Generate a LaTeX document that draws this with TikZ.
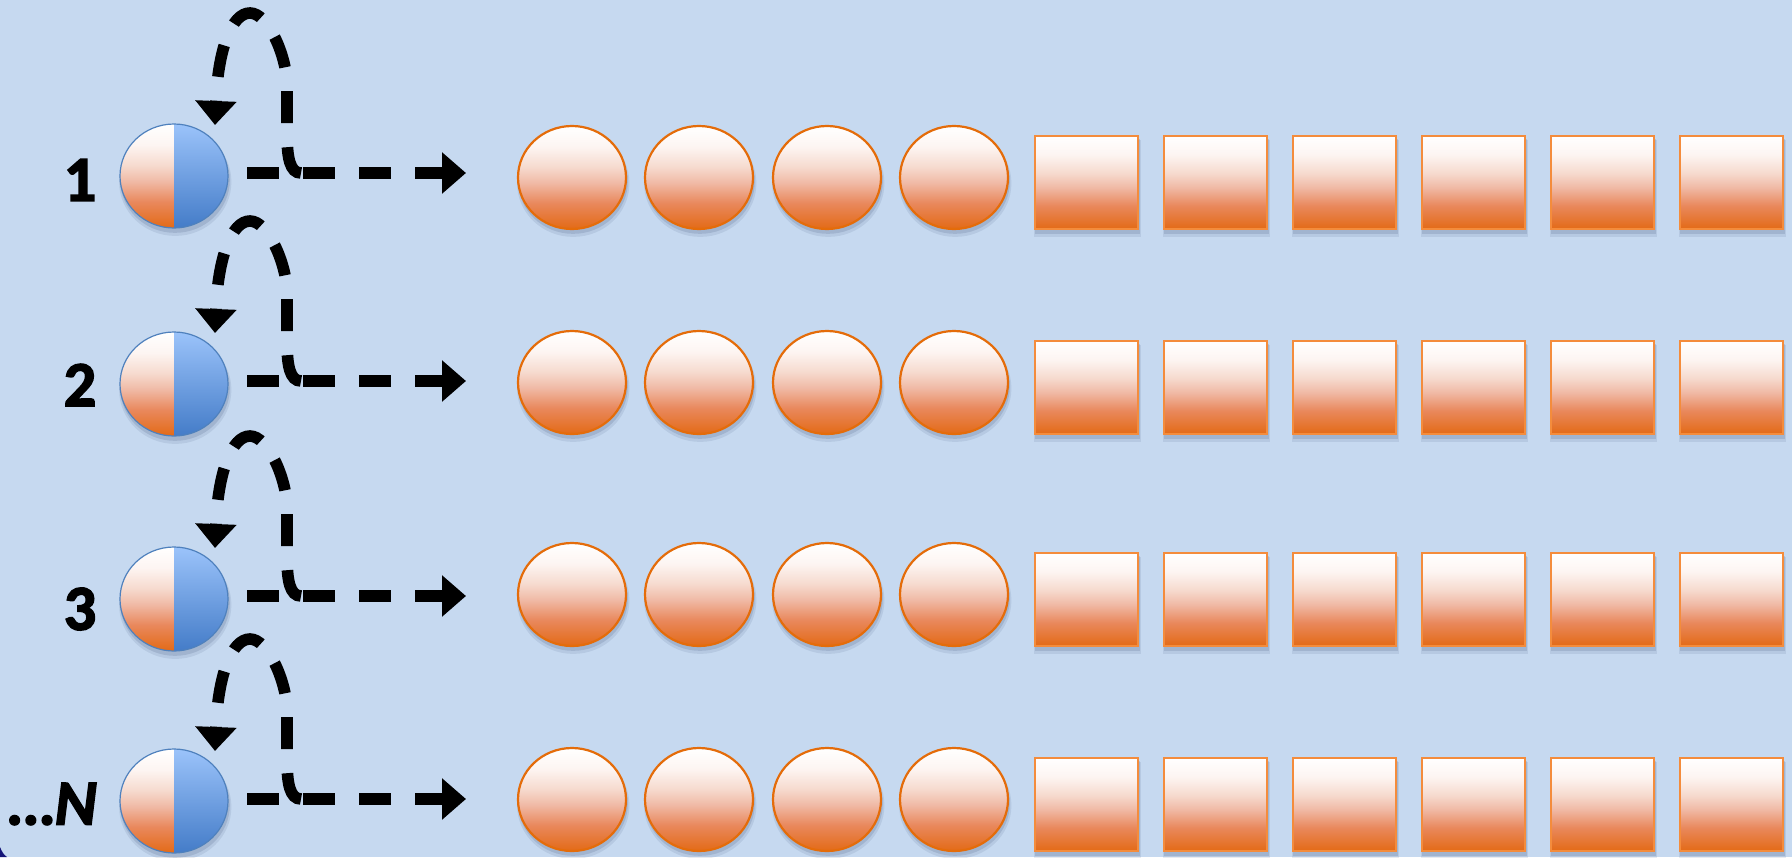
\documentclass[tikz,border=0pt]{standalone}
\usepackage{fontspec}
\setmainfont{Carlito}
\newfontfamily\lblfont{Carlito Bold}[FakeBold=2.5]
\newfontfamily\lblfontit{Carlito Bold Italic}[FakeBold=2.5]
\usetikzlibrary{arrows.meta,shapes.geometric,shadows}
\definecolor{bg}{RGB}{198,217,240}
\definecolor{orB}{RGB}{227,106,22}
\definecolor{orT}{RGB}{233,136,92}
\definecolor{orM}{RGB}{240,186,166}
\definecolor{orL}{RGB}{246,218,206}
\definecolor{orV}{RGB}{253,245,242}
\definecolor{orE}{RGB}{228,108,10}
\definecolor{orS}{RGB}{244,140,60}
\definecolor{blT}{RGB}{155,195,250}
\definecolor{blB}{RGB}{68,124,200}
\definecolor{blE}{RGB}{79,129,189}
\definecolor{shc}{RGB}{70,90,125}
\definecolor{navy}{RGB}{20,20,120}
\pgfdeclareverticalshading{orgrad}{100bp}{color(0bp)=(orB); color(25bp)=(orB); color(37.5bp)=(orT); color(47.5bp)=(orM); color(55bp)=(orL); color(65bp)=(orV); color(75bp)=(white); color(100bp)=(white)}
\pgfdeclareverticalshading{blgrad}{100bp}{color(0bp)=(blB); color(25bp)=(blB); color(75bp)=(blT); color(100bp)=(blT)}
\tikzset{
  softshadow/.style={
    general shadow={shadow xshift=0.6pt,shadow yshift=-2.8pt,shadow scale=1.04,fill=shc,opacity=0.12},
    general shadow={shadow xshift=0.5pt,shadow yshift=-2pt,shadow scale=1.015,fill=shc,opacity=0.18}},
  oball/.style={ellipse, minimum width=54pt, minimum height=51.5pt, inner sep=0pt,
    shade, shading=orgrad, draw=orE, line width=1.1pt, softshadow},
  obox/.style={rectangle, minimum width=51.5pt, minimum height=46.5pt, inner sep=0pt,
    shade, shading=orgrad, draw=orS, line width=0.9pt, softshadow},
  halfball/.style={ellipse, minimum width=54pt, minimum height=52pt, inner sep=0pt,
    draw=blE, line width=0.6pt, softshadow,
    path picture={
      \shade[shading=orgrad] (path picture bounding box.south west) rectangle (path picture bounding box.north);
      \shade[shading=blgrad] (path picture bounding box.south) rectangle (path picture bounding box.north east);
    }},
  flowarrow/.style={line width=5.8pt, dash pattern=on 16pt off 12pt, black,
    -{Triangle[width=20pt,length=12pt]}},
  rowlabel/.style={inner sep=0pt, font=\lblfont\fontsize{32pt}{32pt}\selectfont},
}
\begin{document}
\begin{tikzpicture}[x=0.5pt,y=-0.5pt]
\useasboundingbox (0,0) rectangle (1792,857);
\fill[bg] (0,0) rectangle (1792,857);
\fill[navy] (0,847) .. controls (2,852) and (4,855) .. (7,857) -- (0,857) -- cycle;
\foreach \r/\ly/\cy/\by in {1/173/176/229, 2/381/384/434, 3/596/599/646, 4/799/801/851}{
  \node[halfball] (c\r) at (174,\cy) {};
  \foreach \j/\x in {1/572,2/699,3/827,4/954}{
    \node[oball] (o\r-\j) at (\x,{\by-51.5}) {};
  }
  \foreach \j in {0,...,5}{
    \node[obox] (s\r-\j) at ({1086.5+129*\j},{\by-46.5}) {};
  }
  \coordinate (h\r) at (247,\ly);
  \coordinate (e\r) at (466,\ly);
  \coordinate (l\r) at (301,\ly);
  \coordinate (t\r) at (215,{\ly-48});
  \draw[flowarrow] (h\r) -- (e\r);
  \draw[flowarrow] (l\r) .. controls +(-11,0) and +(0,25) .. ++(-14,-40) -- ++(0,-50)
     .. controls +(-1,-28) and +(18,0) .. ++(-37,-70)
     .. controls +(-18,0) and +(3,-77) .. (t\r);
}
\node[rowlabel] (n1) at (80,180) {1};
\node[rowlabel] (n2) at (80,385) {2};
\node[rowlabel] (n3) at (80,609) {3};
\node[rowlabel,font=\lblfontit\fontsize{32pt}{32pt}\selectfont] (n4) at (53,804) {…N};
\end{tikzpicture}
\end{document}
